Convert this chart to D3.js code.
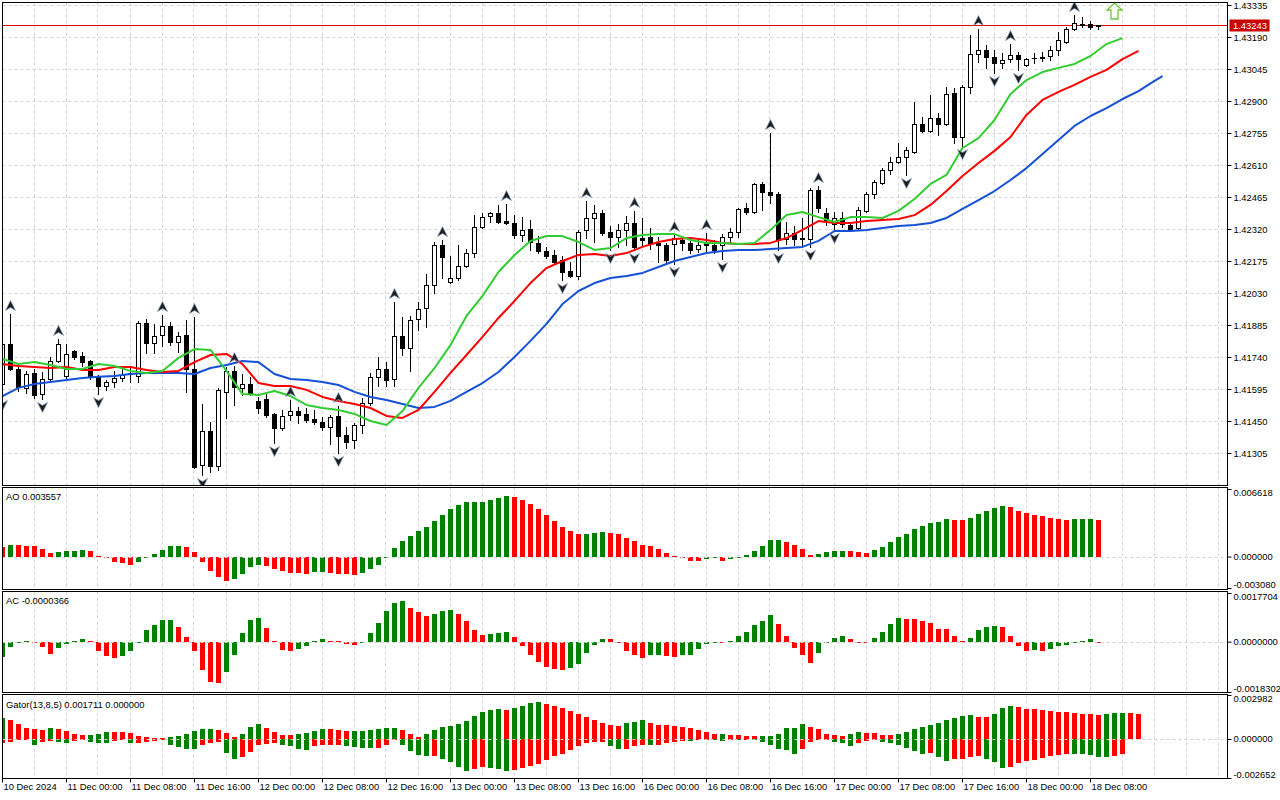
<!DOCTYPE html>
<html><head><meta charset="utf-8">
<script src="https://cdn.jsdelivr.net/npm/d3@7/dist/d3.min.js"></script>
<style>
html,body{margin:0;padding:0;background:#fff;}
svg{display:block;}
text{font-family:"Liberation Sans",Arial,sans-serif;font-size:9.4px;fill:#000;}
</style></head><body>
<svg id="c" width="1280" height="800"></svg>
<script>
// ---------------- DATA ----------------
const timeIdx = [0,8,16,24,32,40,48,56,64,72,80,88,96,104,112,120,128,136];
const timeLabels = ["10 Dec 2024","11 Dec 00:00","11 Dec 08:00","11 Dec 16:00","12 Dec 00:00","12 Dec 08:00","12 Dec 16:00","13 Dec 00:00","13 Dec 08:00","13 Dec 16:00","16 Dec 00:00","16 Dec 08:00","16 Dec 16:00","17 Dec 00:00","17 Dec 08:00","17 Dec 16:00","18 Dec 00:00","18 Dec 08:00"];
const priceTicks = [1.43335,1.43190,1.43045,1.42900,1.42755,1.42610,1.42465,1.42320,1.42175,1.42030,1.41885,1.41740,1.41595,1.41450,1.41305];
const priceRange = [1.411555, 1.433486];
const currentPrice = 1.43243;

const open = [1.41618,1.41799,1.41686,1.41600,1.41668,1.41572,1.41640,1.41722,1.41654,1.41767,
1.41745,1.41722,1.41650,1.41609,1.41627,1.41645,1.41663,1.41654,1.41894,1.41804,
1.41840,1.41881,1.41808,1.41840,1.41686,1.41251,1.41405,1.41246,1.41582,1.41677,
1.41600,1.41618,1.41541,1.41550,1.41482,1.41418,1.41477,1.41495,1.41482,1.41459,
1.41446,1.41423,1.41473,1.41387,1.41364,1.41432,1.41532,1.41650,1.41686,1.41640,
1.41835,1.41781,1.41912,1.41962,1.42066,1.42248,1.42080,1.42098,1.42152,1.42211,
1.42329,1.42379,1.42393,1.42356,1.42347,1.42293,1.42320,1.42257,1.42220,1.42202,
1.42180,1.42130,1.42107,1.42316,1.42370,1.42393,1.42306,1.42284,1.42316,1.42347,
1.42279,1.42284,1.42257,1.42248,1.42252,1.42270,1.42257,1.42229,1.42257,1.42248,
1.42248,1.42284,1.42306,1.42415,1.42397,1.42524,1.42488,1.42479,1.42275,1.42302,
1.42275,1.42275,1.42497,1.42393,1.42343,1.42370,1.42338,1.42325,1.42402,1.42479,
1.42528,1.42587,1.42624,1.42646,1.42669,1.42796,1.42764,1.42823,1.42796,1.42936,
1.42737,1.42964,1.43113,1.43131,1.43099,1.43072,1.43090,1.43108,1.43063,1.43095,
1.43095,1.43104,1.43131,1.43167,1.43226,1.43244,1.43249,1.43238];
const high = [1.41826,1.41935,1.41699,1.41677,1.41686,1.41672,1.41740,1.41822,1.41799,1.41772,
1.41763,1.41727,1.41659,1.41636,1.41677,1.41686,1.41690,1.41903,1.41912,1.41890,
1.41930,1.41899,1.41853,1.41908,1.41921,1.41527,1.41446,1.41600,1.41695,1.41699,
1.41663,1.41650,1.41559,1.41582,1.41486,1.41500,1.41545,1.41514,1.41509,1.41500,
1.41468,1.41477,1.41518,1.41423,1.41441,1.41554,1.41668,1.41740,1.41717,1.41989,
1.41921,1.41926,1.41989,1.42116,1.42261,1.42270,1.42198,1.42248,1.42229,1.42383,
1.42393,1.42397,1.42429,1.42433,1.42383,1.42374,1.42361,1.42288,1.42239,1.42225,
1.42198,1.42171,1.42316,1.42447,1.42429,1.42406,1.42334,1.42343,1.42379,1.42402,
1.42370,1.42325,1.42284,1.42257,1.42293,1.42288,1.42284,1.42279,1.42302,1.42270,
1.42297,1.42325,1.42415,1.42438,1.42528,1.42533,1.42755,1.42488,1.42352,1.42334,
1.42370,1.42506,1.42515,1.42415,1.42397,1.42397,1.42347,1.42420,1.42488,1.42542,
1.42596,1.42646,1.42710,1.42692,1.42895,1.42828,1.42927,1.42846,1.42964,1.42959,
1.42973,1.43199,1.43226,1.43154,1.43131,1.43118,1.43158,1.43122,1.43095,1.43118,
1.43122,1.43149,1.43213,1.43235,1.43290,1.43281,1.43263,1.43245];
const low = [1.41559,1.41681,1.41586,1.41577,1.41554,1.41550,1.41631,1.41717,1.41645,1.41731,
1.41699,1.41640,1.41572,1.41591,1.41604,1.41631,1.41627,1.41627,1.41758,1.41758,
1.41790,1.41794,1.41763,1.41582,1.41237,1.41205,1.41219,1.41228,1.41464,1.41523,
1.41568,1.41568,1.41486,1.41468,1.41350,1.41409,1.41455,1.41441,1.41446,1.41437,
1.41409,1.41346,1.41305,1.41328,1.41328,1.41396,1.41523,1.41609,1.41609,1.41609,
1.41749,1.41677,1.41862,1.41876,1.42030,1.42098,1.42075,1.42089,1.42148,1.42193,
1.42325,1.42352,1.42347,1.42343,1.42279,1.42266,1.42225,1.42211,1.42189,1.42162,
1.42089,1.42103,1.42094,1.42279,1.42261,1.42293,1.42225,1.42239,1.42248,1.42225,
1.42248,1.42229,1.42171,1.42171,1.42162,1.42225,1.42211,1.42216,1.42216,1.42211,
1.42184,1.42257,1.42284,1.42388,1.42393,1.42406,1.42438,1.42225,1.42252,1.42248,
1.42248,1.42239,1.42397,1.42338,1.42316,1.42329,1.42320,1.42320,1.42397,1.42461,
1.42524,1.42569,1.42619,1.42565,1.42664,1.42760,1.42760,1.42746,1.42791,1.42710,
1.42696,1.42936,1.43077,1.43050,1.43027,1.43050,1.43077,1.43041,1.43059,1.43072,
1.43081,1.43086,1.43108,1.43163,1.43222,1.43235,1.43226,1.43228];
const close = [1.41799,1.41686,1.41604,1.41663,1.41568,1.41640,1.41722,1.41799,1.41754,1.41740,
1.41717,1.41650,1.41609,1.41627,1.41645,1.41659,1.41668,1.41894,1.41804,1.41835,
1.41881,1.41808,1.41835,1.41686,1.41242,1.41405,1.41246,1.41591,1.41677,1.41604,
1.41618,1.41577,1.41509,1.41477,1.41418,1.41473,1.41495,1.41477,1.41455,1.41446,
1.41423,1.41468,1.41382,1.41355,1.41432,1.41532,1.41650,1.41686,1.41636,1.41835,
1.41781,1.41908,1.41958,1.42066,1.42248,1.42193,1.42098,1.42152,1.42211,1.42329,
1.42374,1.42393,1.42352,1.42347,1.42293,1.42316,1.42261,1.42220,1.42198,1.42171,
1.42125,1.42107,1.42306,1.42370,1.42393,1.42302,1.42284,1.42316,1.42347,1.42239,
1.42270,1.42252,1.42248,1.42180,1.42279,1.42257,1.42225,1.42248,1.42248,1.42225,
1.42284,1.42306,1.42411,1.42397,1.42524,1.42488,1.42474,1.42270,1.42302,1.42275,
1.42279,1.42497,1.42415,1.42361,1.42370,1.42343,1.42320,1.42406,1.42479,1.42533,
1.42587,1.42624,1.42646,1.42678,1.42796,1.42764,1.42823,1.42796,1.42932,1.42737,
1.42964,1.43113,1.43131,1.43099,1.43072,1.43086,1.43108,1.43090,1.43090,1.43093,
1.43099,1.43131,1.43176,1.43226,1.43253,1.43249,1.43235,1.43243];

// Alligator (jaw every 2 bars up to bar 144, then 145)
const jawBars = d3.range(0, 145, 2).concat([145]);
const jaw = [1.41563,1.41600,1.41618,1.41627,1.41636,1.41645,1.41650,1.41654,1.41663,1.41668,
1.41668,1.41668,1.41663,1.41690,1.41704,1.41722,1.41717,1.41663,1.41640,1.41636,
1.41627,1.41613,1.41582,1.41559,1.41545,1.41527,1.41509,1.41514,1.41541,1.41582,
1.41622,1.41672,1.41740,1.41813,1.41890,1.41980,1.42039,1.42075,1.42098,1.42107,
1.42121,1.42148,1.42175,1.42193,1.42211,1.42220,1.42225,1.42225,1.42229,1.42234,
1.42239,1.42266,1.42311,1.42311,1.42316,1.42325,1.42334,1.42338,1.42347,1.42370,
1.42411,1.42451,1.42492,1.42542,1.42596,1.42660,1.42723,1.42787,1.42832,1.42868,
1.42909,1.42945,1.42991,1.43013];
const teethBars = d3.range(0, 143, 2);
const teeth = [1.41708,1.41699,1.41695,1.41690,1.41695,1.41681,1.41681,1.41695,1.41695,1.41681,
1.41672,1.41677,1.41717,1.41749,1.41754,1.41708,1.41622,1.41609,1.41609,1.41591,
1.41559,1.41541,1.41527,1.41509,1.41473,1.41464,1.41500,1.41582,1.41668,1.41749,
1.41831,1.41917,1.41994,1.42075,1.42143,1.42175,1.42202,1.42207,1.42198,1.42211,
1.42239,1.42261,1.42275,1.42279,1.42270,1.42257,1.42252,1.42252,1.42257,1.42279,
1.42316,1.42356,1.42347,1.42347,1.42356,1.42361,1.42365,1.42383,1.42429,1.42492,
1.42560,1.42619,1.42674,1.42737,1.42837,1.42905,1.42941,1.42973,1.43009,1.43041,
1.43090,1.43127];
const lipsBars = d3.range(0, 141, 2);
const lips = [1.41731,1.41708,1.41717,1.41704,1.41686,1.41686,1.41708,1.41699,1.41677,1.41668,
1.41677,1.41736,1.41776,1.41772,1.41677,1.41572,1.41568,1.41586,1.41563,1.41523,
1.41509,1.41500,1.41482,1.41450,1.41432,1.41495,1.41600,1.41690,1.41794,1.41926,
1.42017,1.42125,1.42202,1.42266,1.42288,1.42288,1.42261,1.42225,1.42234,1.42279,
1.42293,1.42297,1.42297,1.42270,1.42257,1.42257,1.42252,1.42257,1.42316,1.42383,
1.42397,1.42374,1.42352,1.42374,1.42374,1.42370,1.42402,1.42456,1.42524,1.42565,
1.42687,1.42732,1.42814,1.42932,1.42995,1.43031,1.43050,1.43068,1.43104,1.43158,
1.43185];

const fractalUp = [1,7,20,24,29,36,42,49,55,63,73,79,84,88,96,102,122,126,134];
const fractalDown = [0,5,12,25,34,42,70,76,79,84,90,97,101,104,113,120,124,127];
const signalBar = [139];
const signalPrice = [1.43344];

// Awesome Oscillator
const aoRange = [-0.003080, 0.006618];
const aoLast = "0.003557";
const ao = [0.00098,0.00114,0.00112,0.00104,0.00102,0.00075,0.00039,0.00049,0.00055,0.00057,
0.00065,0.00055,0.00007,-0.00016,-0.00049,-0.00065,-0.00082,-0.00049,-0.00007,0.00026,
0.00065,0.00104,0.00106,0.00091,0.00049,-0.00049,-0.00137,-0.00205,-0.00235,-0.00222,
-0.00170,-0.00104,-0.00082,-0.00091,-0.00121,-0.00137,-0.00163,-0.00165,-0.00167,-0.00153,
-0.00147,-0.00157,-0.00170,-0.00174,-0.00176,-0.00163,-0.00124,-0.00082,-0.00007,0.00082,
0.00153,0.00202,0.00251,0.00294,0.00349,0.00408,0.00463,0.00505,0.00531,0.00533,
0.00536,0.00554,0.00577,0.00593,0.00587,0.00554,0.00515,0.00466,0.00408,0.00349,
0.00290,0.00251,0.00222,0.00225,0.00235,0.00241,0.00235,0.00222,0.00179,0.00153,
0.00114,0.00104,0.00075,0.00039,0.00007,-0.00007,-0.00039,-0.00040,-0.00026,-0.00016,
-0.00039,-0.00026,-0.00007,0.00016,0.00055,0.00104,0.00163,0.00165,0.00143,0.00114,
0.00075,0.00016,0.00029,0.00046,0.00055,0.00057,0.00054,0.00046,0.00036,0.00065,
0.00095,0.00143,0.00192,0.00222,0.00267,0.00300,0.00329,0.00339,0.00365,0.00359,
0.00357,0.00378,0.00414,0.00447,0.00476,0.00496,0.00486,0.00447,0.00427,0.00408,
0.00398,0.00378,0.00368,0.00359,0.00368,0.00369,0.00370,0.003557];

// Accelerator Oscillator
const acRange = [-0.0018302, 0.0017704];
const acLast = "-0.0000366";
const ac = [-0.00054,-0.00018,-0.00004,0.00002,-0.00005,-0.00018,-0.00046,-0.00024,-0.00010,0.00002,
0.00011,0.00001,-0.00034,-0.00052,-0.00060,-0.00052,-0.00034,-0.00001,0.00044,0.00062,
0.00078,0.00080,0.00052,0.00016,-0.00034,-0.00102,-0.00148,-0.00150,-0.00112,-0.00048,
0.00030,0.00080,0.00085,0.00048,0.00001,-0.00030,-0.00034,-0.00025,-0.00016,0.00004,
0.00010,0.00004,0.00001,-0.00008,-0.00012,-0.00001,0.00032,0.00068,0.00113,0.00140,
0.00148,0.00124,0.00109,0.00092,0.00102,0.00113,0.00116,0.00102,0.00076,0.00044,
0.00024,0.00028,0.00032,0.00037,0.00016,-0.00016,-0.00050,-0.00073,-0.00091,-0.00100,
-0.00103,-0.00094,-0.00080,-0.00041,-0.00012,0.00010,0.00008,-0.00001,-0.00033,-0.00050,
-0.00059,-0.00048,-0.00047,-0.00053,-0.00054,-0.00050,-0.00047,-0.00027,-0.00010,-0.00001,
-0.00002,0.00001,0.00020,0.00035,0.00061,0.00075,0.00096,0.00064,0.00020,-0.00023,
-0.00050,-0.00076,-0.00041,-0.00004,0.00012,0.00020,0.00008,-0.00004,-0.00005,0.00014,
0.00035,0.00064,0.00086,0.00083,0.00081,0.00075,0.00067,0.00047,0.00046,0.00022,
0.00002,0.00014,0.00043,0.00055,0.00057,0.00054,0.00022,-0.00015,-0.00034,-0.00030,
-0.00033,-0.00027,-0.00015,-0.00012,-0.00004,0.00004,0.00008,-0.0000366];

// Gator oscillator
const gatorRange = [-0.002652, 0.002982];
const gatorLast = ["0.001711", "0.000000"];
const gatorUp = [0.00139,0.00126,0.00099,0.00077,0.00069,0.00060,0.00073,0.00069,0.00051,0.00033,
0.00027,0.00028,0.00033,0.00046,0.00045,0.00044,0.00038,0.00020,0.00011,0.00004,
0.00003,0.00011,0.00020,0.00033,0.00053,0.00069,0.00070,0.00062,0.00040,0.00013,
0.00033,0.00080,0.00099,0.00073,0.00046,0.00027,0.00026,0.00033,0.00040,0.00053,
0.00069,0.00068,0.00060,0.00053,0.00054,0.00055,0.00062,0.00069,0.00073,0.00074,
0.00060,0.00033,0.00012,0.00033,0.00062,0.00080,0.00088,0.00099,0.00119,0.00159,
0.00186,0.00199,0.00200,0.00198,0.00210,0.00225,0.00241,0.00248,0.00236,0.00223,
0.00208,0.00192,0.00170,0.00148,0.00130,0.00111,0.00097,0.00091,0.00111,0.00117,
0.00130,0.00111,0.00097,0.00093,0.00090,0.00082,0.00075,0.00060,0.00044,0.00033,
0.00034,0.00027,0.00024,0.00022,0.00020,0.00021,0.00023,0.00033,0.00071,0.00077,
0.00099,0.00082,0.00066,0.00033,0.00024,0.00023,0.00031,0.00044,0.00043,0.00038,
0.00029,0.00024,0.00033,0.00044,0.00066,0.00082,0.00095,0.00111,0.00126,0.00139,
0.00159,0.00160,0.00152,0.00151,0.00170,0.00208,0.00225,0.00219,0.00206,0.00203,
0.00199,0.00192,0.00186,0.00181,0.00175,0.00170,0.00166,0.00164,0.00170,0.00174,
0.00178,0.00175,0.001711];
const gatorDown = [-0.00029,-0.00018,-0.00007,-0.00006,-0.00040,-0.00018,-0.00011,-0.00018,-0.00027,-0.00011,
-0.00010,-0.00018,-0.00027,-0.00028,-0.00011,-0.00010,-0.00027,-0.00026,-0.00018,-0.00011,
-0.00010,-0.00044,-0.00055,-0.00066,-0.00067,-0.00044,-0.00027,-0.00018,-0.00093,-0.00137,
-0.00122,-0.00091,-0.00044,-0.00033,-0.00027,-0.00040,-0.00049,-0.00066,-0.00073,-0.00051,
-0.00044,-0.00043,-0.00042,-0.00049,-0.00055,-0.00060,-0.00061,-0.00059,-0.00038,-0.00007,
-0.00044,-0.00084,-0.00106,-0.00117,-0.00116,-0.00133,-0.00157,-0.00188,-0.00217,-0.00205,
-0.00190,-0.00195,-0.00205,-0.00215,-0.00210,-0.00194,-0.00183,-0.00172,-0.00146,-0.00117,
-0.00099,-0.00073,-0.00046,-0.00029,-0.00020,-0.00018,-0.00051,-0.00068,-0.00067,-0.00051,
-0.00040,-0.00041,-0.00040,-0.00029,-0.00024,-0.00011,-0.00012,-0.00007,-0.00002,-0.00007,
-0.00011,-0.00002,-0.00003,-0.00002,-0.00007,-0.00024,-0.00044,-0.00068,-0.00073,-0.00104,
-0.00068,-0.00018,-0.00007,-0.00002,-0.00018,-0.00029,-0.00046,-0.00029,-0.00011,-0.00004,
-0.00020,-0.00029,-0.00044,-0.00064,-0.00084,-0.00099,-0.00098,-0.00124,-0.00150,-0.00139,
-0.00135,-0.00124,-0.00117,-0.00139,-0.00157,-0.00195,-0.00188,-0.00161,-0.00150,-0.00144,
-0.00128,-0.00117,-0.00106,-0.00100,-0.00102,-0.00104,-0.00111,-0.00122,-0.00123,-0.00115,
-0.00104];

// ---------------- DRAWING ----------------
const GREEN = "#008000", RED = "#ff0000";
const svg = d3.select("#c");
const LEFT = 2.5, RIGHT = 1227.5;
const P = {
  main:  {top: 2.5,   bottom: 485.5},
  ao:    {top: 487.5, bottom: 589.5},
  ac:    {top: 591.5, bottom: 692.5},
  gator: {top: 694.5, bottom: 778.5}
};
const x = d3.scaleLinear().domain([0, 153]).range([2.5, 2.5 + 8 * 153]);
const yMain = d3.scaleLinear().domain(priceRange).range([486, 2]);
const yAO = d3.scaleLinear().domain(aoRange).range([588, 489]);
const yAC = d3.scaleLinear().domain(acRange).range([692, 593]);
const yG = d3.scaleLinear().domain(gatorRange).range([778, 695]);
const fmt = f => { const g = d3.format(f); return v => g(v).replace("\u2212", "-"); };

svg.append("rect").attr("width", 1280).attr("height", 800).attr("fill", "#fff");

const defs = svg.append("defs");
Object.entries(P).forEach(([k, p]) => {
  defs.append("clipPath").attr("id", "clip-" + k).append("rect")
    .attr("x", LEFT + 0.5).attr("y", p.top + 0.5).attr("width", RIGHT - LEFT - 1).attr("height", p.bottom - p.top - 1);
});

// grids
const gridIdx = d3.range(4, 153, 4);
Object.entries(P).forEach(([k, p]) => {
  const g = svg.append("g").attr("clip-path", `url(#clip-${k})`)
    .attr("stroke", "#d4d4d4").attr("stroke-width", 1).attr("stroke-dasharray", "3,3");
  gridIdx.forEach(i => {
    const gx = Math.round(x(i)) - 0.5;
    g.append("line").attr("x1", gx).attr("x2", gx).attr("y1", p.top).attr("y2", p.bottom);
  });
  if (k === "main") {
    priceTicks.forEach(t => {
      const gy = Math.round(yMain(t)) + 0.5;
      g.append("line").attr("x1", LEFT).attr("x2", RIGHT).attr("y1", gy).attr("y2", gy);
    });
  }
});

// current price line (under the candles, like the terminal)
const cpy = Math.round(yMain(currentPrice)) + 0.5;
svg.append("line").attr("x1", LEFT).attr("x2", RIGHT).attr("y1", cpy).attr("y2", cpy)
  .attr("stroke", "#e00000").attr("stroke-width", 1);

// ----- main panel -----
const mg = svg.append("g").attr("clip-path", "url(#clip-main)");
open.forEach((o, i) => {
  const cx = x(i);
  const hi = Math.round(yMain(high[i])), lo = Math.round(yMain(low[i]));
  mg.append("line").attr("x1", cx).attr("x2", cx).attr("y1", hi).attr("y2", lo + 1)
    .attr("stroke", "#000").attr("stroke-width", 1);
  const yo = Math.round(yMain(o)), yc = Math.round(yMain(close[i]));
  const top = Math.min(yo, yc), bot = Math.max(yo, yc);
  const bull = close[i] >= o;
  if (bot - top < 1) {
    mg.append("line").attr("x1", cx - 2.5).attr("x2", cx + 2.5).attr("y1", top + 0.5).attr("y2", top + 0.5)
      .attr("stroke", "#000");
  } else {
    mg.append("rect").attr("x", cx - 2).attr("y", top + 0.5).attr("width", 4).attr("height", bot - top)
      .attr("fill", bull ? "#fff" : "#000").attr("stroke", "#000").attr("stroke-width", 1);
  }
});

const line = d3.line().x(d => x(d[0])).y(d => yMain(d[1]));
[[jawBars, jaw, "#1550d6"], [teethBars, teeth, "#ff0000"], [lipsBars, lips, "#32cd32"]].forEach(([b, v, c]) => {
  mg.append("path").datum(b.map((bi, k) => [bi, v[k]])).attr("d", line)
    .attr("fill", "none").attr("stroke", c).attr("stroke-width", 2).attr("stroke-linejoin", "round");
});

// fractal markers
fractalUp.forEach(i => {
  const cx = x(i), cy = yMain(high[i]) - 8;
  mg.append("path").attr("d", "M0,-5.5 L5,4.5 L0,1.5 L-5,4.5 Z")
    .attr("transform", `translate(${cx},${cy})`)
    .attr("fill", "#1e1e1e").attr("stroke", "#7f9cc0").attr("stroke-width", 0.7);
});
fractalDown.forEach(i => {
  const cx = x(i), cy = yMain(low[i]) + 8;
  mg.append("path").attr("d", "M0,5.5 L5,-4.5 L0,-1.5 L-5,-4.5 Z")
    .attr("transform", `translate(${cx},${cy})`)
    .attr("fill", "#1e1e1e").attr("stroke", "#7f9cc0").attr("stroke-width", 0.7);
});

// signal arrow
signalBar.forEach((b, k) => {
  const cx = x(b), cy = yMain(signalPrice[k]);
  mg.append("path").attr("d", "M0,0 L7.5,7 L3.5,7 L3.5,16 L-3.5,16 L-3.5,7 L-7.5,7 Z")
    .attr("transform", `translate(${cx},${cy})`)
    .attr("fill", "#fbfff4").attr("stroke", "#6fc83c").attr("stroke-width", 1.3).attr("stroke-linejoin", "miter");
});

// ----- histogram helper -----
function histo(key, vals, yS, colorOf) {
  const g = svg.append("g").attr("clip-path", `url(#clip-${key})`);
  const y0 = Math.round(yS(0));
  vals.forEach((v, i) => {
    const y1 = Math.round(yS(v));
    const t = Math.min(y0, y1), h = Math.max(Math.abs(y1 - y0), 1);
    g.append("rect").attr("x", x(i) - 2.5).attr("y", v >= 0 ? t : y0).attr("width", 5).attr("height", h)
      .attr("fill", colorOf(v, i));
  });
  return g;
}
function zeroLine(key, yS) {
  const zy = Math.round(yS(0)) + 0.5;
  svg.append("line").attr("clip-path", `url(#clip-${key})`)
    .attr("x1", LEFT).attr("x2", RIGHT).attr("y1", zy).attr("y2", zy)
    .attr("stroke", "#d0d0d0").attr("stroke-dasharray", "3,3");
}

histo("ao", ao, yAO, (v, i) => i === 0 ? RED : (v > ao[i - 1] ? GREEN : RED));
zeroLine("ao", yAO);
histo("ac", ac, yAC, (v, i) => i === 0 ? GREEN : (v > ac[i - 1] ? GREEN : RED));
zeroLine("ac", yAC);
histo("gator", gatorUp, yG, (v, i) => i === 0 ? GREEN : (v > gatorUp[i - 1] ? GREEN : RED));
histo("gator", gatorDown, yG, (v, i) => i === 0 ? RED : (Math.abs(v) > Math.abs(gatorDown[i - 1]) ? GREEN : RED));
zeroLine("gator", yG);

// panel borders
Object.values(P).forEach(p => {
  svg.append("rect").attr("x", LEFT).attr("y", p.top).attr("width", RIGHT - LEFT).attr("height", p.bottom - p.top)
    .attr("fill", "none").attr("stroke", "#000").attr("stroke-width", 1);
});

// ----- axes -----
const FONT = '"Liberation Sans", Arial, sans-serif';
function styleAxis(g) {
  g.attr("font-family", FONT).attr("font-size", 9.4);
  g.select(".domain").remove();
  g.selectAll("text").attr("fill", "#000");
  g.selectAll("line").attr("stroke", "#000");
}
const pa = svg.append("g").attr("transform", `translate(${RIGHT},0)`)
  .call(d3.axisRight(yMain).tickValues(priceTicks).tickSize(4).tickPadding(2).tickFormat(fmt(".5f")));
styleAxis(pa);

function subAxis(yS, range, f) {
  const g = svg.append("g").attr("transform", `translate(${RIGHT},0)`)
    .call(d3.axisRight(yS).tickValues([range[0], 0, range[1]]).tickSize(4).tickPadding(2).tickFormat(fmt(f)));
  styleAxis(g);
  g.selectAll(".tick text").attr("y", d => d === range[1] ? 3.5 : (d === range[0] ? -3.5 : 0));
  return g;
}
subAxis(yAO, aoRange, ".6f");
subAxis(yAC, acRange, ".7f");
subAxis(yG, gatorRange, ".6f");

// current price label
svg.append("rect").attr("x", RIGHT + 2).attr("y", cpy - 6).attr("width", 40).attr("height", 12).attr("fill", "#c80000");
svg.append("text").attr("x", RIGHT + 5.5).attr("y", cpy + 3.5).attr("font-family", FONT).attr("font-size", 9.4)
  .style("fill", "#fff").text(fmt(".5f")(currentPrice));

// time axis
const ta = svg.append("g").attr("transform", `translate(-0.5,${P.gator.bottom})`)
  .call(d3.axisBottom(x).tickValues(timeIdx).tickSize(4).tickPadding(1).tickFormat((d, k) => timeLabels[k]));
styleAxis(ta);
ta.selectAll(".tick text").attr("text-anchor", "start").attr("x", 1);

// panel labels
svg.append("text").attr("x", 6).attr("y", 500).text("AO " + aoLast);
svg.append("text").attr("x", 6).attr("y", 604).text("AC " + acLast);
svg.append("text").attr("x", 6).attr("y", 708).text("Gator(13,8,5) " + gatorLast[0] + " " + gatorLast[1]);
</script>
</body></html>
